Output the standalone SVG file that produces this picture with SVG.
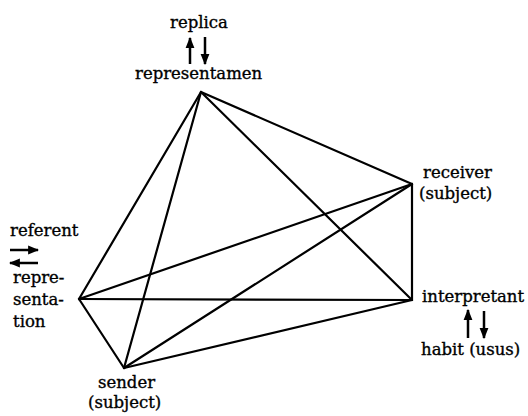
<svg xmlns="http://www.w3.org/2000/svg" width="528" height="416" viewBox="0 0 528 416">
<style>
text{font-family:"DejaVu Serif","Liberation Serif",serif;font-size:16.5px;fill:#000;stroke:#000;stroke-width:0.35}
.e{stroke:#000;stroke-width:2.2;fill:none;stroke-linecap:round}
.a{stroke:#000;stroke-width:2.5;fill:none}
</style>
<defs>
<marker id="ah" viewBox="0 0 10 10" refX="9" refY="5" markerWidth="4.4" markerHeight="4.4" orient="auto" markerUnits="strokeWidth">
<path d="M0,1 L10,5 L0,9 z" fill="#000"/>
</marker>
</defs>
<rect width="528" height="416" fill="#fff"/>
<g id="connectors">
<line class="e" x1="201" y1="92" x2="412" y2="184"/>
<line class="e" x1="201" y1="92" x2="412" y2="300"/>
<line class="e" x1="201" y1="92" x2="79" y2="299"/>
<line class="e" x1="201" y1="92" x2="124" y2="368"/>
<line class="e" x1="412" y1="184" x2="412" y2="300"/>
<line class="e" x1="412" y1="184" x2="79" y2="299"/>
<line class="e" x1="412" y1="184" x2="124" y2="368"/>
<line class="e" x1="412" y1="300" x2="79" y2="299"/>
<line class="e" x1="412" y1="300" x2="124" y2="368"/>
<line class="e" x1="79" y1="299" x2="124" y2="368"/>
</g>
<g id="representamen">
<text x="170" y="28">replica</text>
<line class="a" x1="190" y1="64" x2="190" y2="38" marker-end="url(#ah)"/>
<line class="a" x1="205" y1="37" x2="205" y2="64" marker-end="url(#ah)"/>
<text x="135" y="79">representamen</text>
</g>
<g id="receiver">
<text x="423" y="178">receiver</text>
<text x="419" y="199">(subject)</text>
</g>
<g id="interpretant">
<text x="422" y="302">interpretant</text>
<line class="a" x1="468" y1="338" x2="468" y2="310" marker-end="url(#ah)"/>
<line class="a" x1="484" y1="311" x2="484" y2="338" marker-end="url(#ah)"/>
<text x="421" y="355">habit (usus)</text>
</g>
<g id="sender">
<text x="98" y="388">sender</text>
<text x="88" y="408">(subject)</text>
</g>
<g id="referent">
<text x="10" y="236">referent</text>
<line class="a" x1="10" y1="250" x2="38" y2="250" marker-end="url(#ah)"/>
<line class="a" x1="38" y1="263" x2="10" y2="263" marker-end="url(#ah)"/>
<text x="13" y="283">repre-</text>
<text x="13" y="305">senta-</text>
<text x="13" y="327">tion</text>
</g>
</svg>
